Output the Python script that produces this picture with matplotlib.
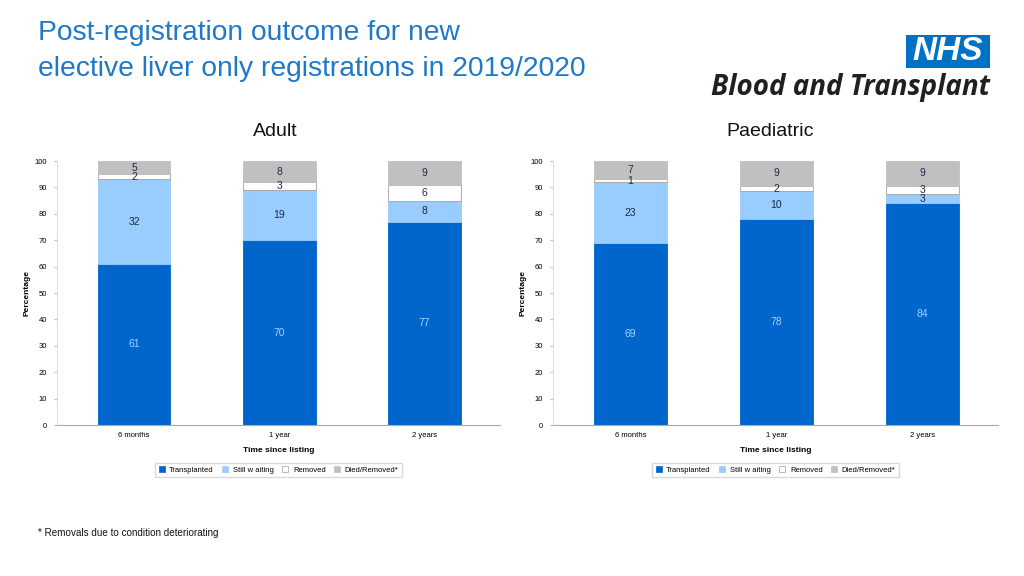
import matplotlib.pyplot as plt
import matplotlib.patches as mpatches
import numpy as np

plt.rcParams['font.family'] = ['Liberation Sans', 'DejaVu Sans']

# Data (percent of registrations)
periods = ['6 months', '1 year', '2 years']
outcomes = ['Transplanted', 'Still w aiting', 'Removed', 'Died/Removed*']

adult_transplanted = [61, 70, 77]
adult_waiting = [32, 19, 8]
adult_removed = [2, 3, 6]
adult_died = [5, 8, 9]

# segment heights estimated from the bars, labels are the rounded values
paed_transplanted = [68.9, 78.2, 84.0]
paed_waiting = [23.1, 10.3, 3.4]
paed_removed = [1.2, 2.1, 3.2]
paed_died = [6.8, 9.4, 9.4]

colors = ['#0066cc', '#99ccff', '#ffffff', '#c0c0c0']
label_colors = ['#a8d0ff', '#1a2a48', '#1a2a48', '#1a2a48']


def draw_panel(ax, series, subtitle, title_x):
    x = np.arange(len(periods))
    bottom = np.zeros(len(periods))
    for vals, col, lcol in zip(series, colors, label_colors):
        vals = np.array(vals, dtype=float)
        ax.bar(x, vals, 0.5, bottom=bottom, color=col,
               edgecolor='#a0a0a0' if col == '#ffffff' else col, linewidth=0.6)
        for xi, b, v in zip(x, bottom, vals):
            ax.text(xi, b + v / 2, f'{v:.0f}', ha='center', va='center',
                    fontsize=7.5, color=lcol)
        bottom += vals

    ax.set_xlim(-0.53, 2.52)
    ax.set_ylim(0, 100)
    ax.set_yticks(range(0, 101, 10))
    ax.set_xticks(x)
    ax.set_xticklabels(periods)
    ax.tick_params(axis='y', labelsize=5.5, length=2, color='#c0c0c0', pad=5)
    ax.tick_params(axis='x', labelsize=5.5, length=0, pad=5)
    for s in ['top', 'right']:
        ax.spines[s].set_visible(False)
    ax.spines['left'].set_color('#e0e0e0')
    ax.spines['bottom'].set_color('#a8a8a8')
    ax.set_xlabel('Time since listing', fontsize=6, fontweight='bold', labelpad=6)
    ax.set_ylabel('Percentage', fontsize=6, fontweight='bold', labelpad=3)

    handles = [mpatches.Patch(facecolor=c, edgecolor='#a0a0a0' if c == '#ffffff' else c,
                              linewidth=0.5) for c in colors]
    ax.legend(handles, outcomes, loc='upper center', bbox_to_anchor=(0.5, -0.13),
              ncol=4, fontsize=5.5, frameon=True, fancybox=False, edgecolor='#d0d0d0',
              handlelength=0.8, handleheight=0.8, handletextpad=0.6, columnspacing=1.1,
              borderpad=0.4)

    fig.text(title_x, 1 - 131 / 576, subtitle, ha='center', va='center', fontsize=14,
             color='#111111')


fig = plt.figure(figsize=(10.24, 5.76), dpi=100)

ax1 = fig.add_axes([57 / 1024, 1 - 425 / 576, 443 / 1024, 264 / 576])
ax2 = fig.add_axes([553 / 1024, 1 - 425 / 576, 445 / 1024, 264 / 576])

draw_panel(ax1, [adult_transplanted, adult_waiting, adult_removed, adult_died], 'Adult', 275 / 1024)
draw_panel(ax2, [paed_transplanted, paed_waiting, paed_removed, paed_died], 'Paediatric', 770 / 1024)

# Title
fig.text(38 / 1024, 1 - 51 / 576,
         'Post-registration outcome for new\nelective liver only registrations in 2019/2020',
         ha='left', va='center', fontsize=20.3, color='#1f78c8', linespacing=1.45)

# NHS Blood and Transplant logo
fig.patches.append(mpatches.Rectangle((906 / 1024, 1 - 68 / 576), 84 / 1024, 33 / 576,
                                      transform=fig.transFigure, facecolor='#0072c6',
                                      edgecolor='none'))
fig.text(948 / 1024, 1 - 52 / 576, 'NHS', ha='center', va='center', fontsize=24,
         fontweight='bold', fontstyle='italic', color='white')
fig.text(990 / 1024, 1 - 87 / 576, 'Blood and Transplant', ha='right', va='center',
         fontsize=20, fontweight='bold', fontstyle='italic', color='#231f20',
         family=['Open Sans', 'DejaVu Sans'])

# Footnote
fig.text(38 / 1024, 1 - 533 / 576, '* Removals due to condition deteriorating',
         ha='left', va='center', fontsize=7.1, color='#111111')

fig.savefig('out.png', dpi=100)
